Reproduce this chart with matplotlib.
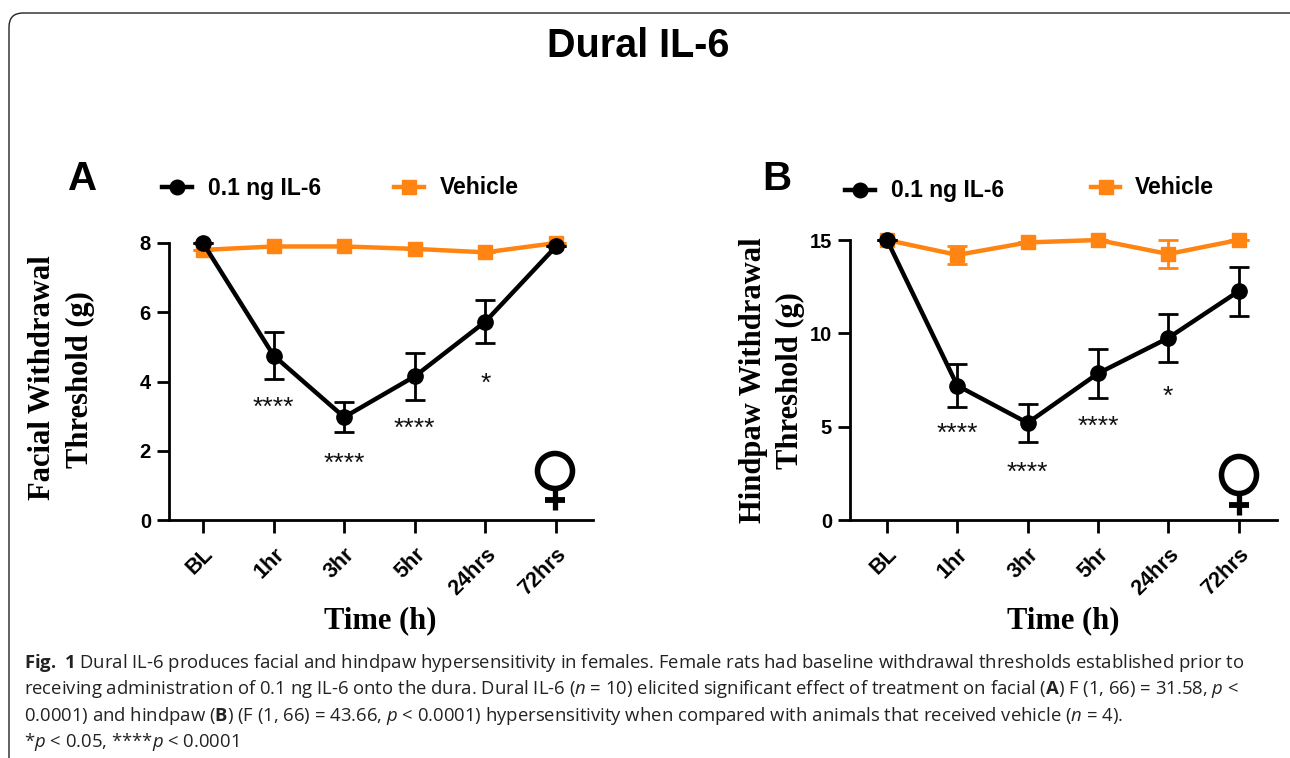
import matplotlib
matplotlib.use('Agg')
import matplotlib.pyplot as plt
from matplotlib.lines import Line2D
from matplotlib.patches import Ellipse, FancyBboxPatch

W, H = 1290, 758

times = ['BL', '1hr', '3hr', '5hr', '24hrs', '72hrs']

# panel A
facial_il6 = [8.0, 4.75, 2.97, 4.15, 5.73, 7.9]
facial_il6_err = [0, 0.69, 0.44, 0.67, 0.62, 0]
facial_veh = [7.8, 7.9, 7.9, 7.83, 7.73, 8.0]
facial_veh_err = [0, 0, 0, 0, 0, 0]
facial_stars = ['', '****', '****', '****', '*', '']
facial_star_y = [0, 3.25, 1.63, 2.62, 3.92, 0]

# panel B
hind_il6 = [15.0, 7.2, 5.2, 7.85, 9.75, 12.25]
hind_il6_err = [0, 1.17, 1.03, 1.3, 1.27, 1.3]
hind_veh = [15.0, 14.2, 14.87, 15.0, 14.25, 15.0]
hind_veh_err = [0, 0.5, 0, 0, 0.75, 0]
hind_stars = ['', '****', '****', '****', '*', '']
hind_star_y = [0, 4.64, 2.55, 5.01, 6.62, 0]

BLACK = '#000000'
ORANGE = '#ff8412'
SANS = 'Liberation Sans'
SERIF = 'Liberation Serif'

plt.rcParams['mathtext.fontset'] = 'custom'
plt.rcParams['mathtext.rm'] = 'Open Sans'
plt.rcParams['mathtext.it'] = 'Open Sans:italic'
plt.rcParams['mathtext.bf'] = 'Open Sans:bold'


def fx(px):
    return px / W


def fy(py):
    return 1 - py / H


fig = plt.figure(figsize=(W / 100, H / 100), dpi=100)
fig.patch.set_facecolor('white')

# rounded frame, runs off the right and bottom edge
fig.add_artist(FancyBboxPatch((9, -40), 1320, H + 40 - 13, boxstyle='round,pad=0,rounding_size=14',
                              transform=None, fc='none', ec='#222222', lw=1.0))


def panel(left, right, x0, step, ymax, yticks, il6, il6_err, veh, veh_err, stars, star_y):
    top, bottom = (243, 520) if ymax == 8 else (240, 520)
    ax = fig.add_axes([fx(left), fy(bottom), fx(right - left), (bottom - top) / H])
    ax.set_xlim((left - x0) / step, (right - x0) / step)
    ax.set_ylim(0, ymax)
    xs = list(range(len(times)))
    ax.errorbar(xs, veh, yerr=veh_err, color=ORANGE, lw=3.2, marker='s', ms=10.5, capsize=7,
                capthick=2, elinewidth=2, clip_on=False, zorder=3)
    ax.errorbar(xs, il6, yerr=il6_err, color=BLACK, lw=3.2, marker='o', ms=11, capsize=7,
                capthick=2, elinewidth=2, clip_on=False, zorder=4)
    for x, s, y in zip(xs, stars, star_y):
        if s:
            ax.text(x, y, s, ha='center', va='center', fontsize=19, family=SANS, color='#111111')
    ax.spines['top'].set_visible(False)
    ax.spines['right'].set_visible(False)
    ax.spines['left'].set_linewidth(2)
    ax.spines['bottom'].set_linewidth(2)
    ax.set_xticks(xs)
    ax.set_xticklabels(times, rotation=45, ha='right', rotation_mode='anchor',
                       family=SANS, fontweight='bold', fontsize=15.5)
    ax.set_yticks(yticks)
    ax.set_yticklabels([str(v) for v in yticks], family=SANS, fontweight='bold', fontsize=14.5)
    ax.tick_params(axis='both', width=2, length=9, pad=4, color=BLACK)
    ax.tick_params(axis='x', pad=8)
    ax.patch.set_alpha(0)
    return ax


panel(169, 593, 203, 70.6, 8, [0, 2, 4, 6, 8],
      facial_il6, facial_il6_err, facial_veh, facial_veh_err, facial_stars, facial_star_y)
panel(850, 1277, 887, 70.3, 15, [0, 5, 10, 15],
      hind_il6, hind_il6_err, hind_veh, hind_veh_err, hind_stars, hind_star_y)

fig.text(fx(638), fy(46), 'Dural IL-6', ha='center', va='center', family=SANS, fontweight='bold', fontsize=28.5)
fig.text(fx(83), fy(179), 'A', ha='center', va='center', family=SANS, fontweight='bold', fontsize=29)
fig.text(fx(777), fy(179), 'B', ha='center', va='center', family=SANS, fontweight='bold', fontsize=29)


def legend_item(x0, x1, y, color, marker, label, tx):
    fig.add_artist(Line2D([fx(x0), fx((x0 + x1) / 2), fx(x1)], [fy(y)] * 3, color=color, lw=3.2, marker=marker,
                          ms=10.5, markevery=[1], transform=fig.transFigure))
    fig.text(fx(tx), fy(y + 1), label, ha='left', va='center', family=SANS, fontweight='bold', fontsize=16.5)


legend_item(162, 192, 187, BLACK, 'o', '0.1 ng IL-6', 208)
legend_item(394, 424, 187, ORANGE, 's', 'Vehicle', 440)
legend_item(845, 875, 190, BLACK, 'o', '0.1 ng IL-6', 891)
legend_item(1091, 1120, 187, ORANGE, 's', 'Vehicle', 1135)

ylab = dict(ha='center', va='center', rotation=90, family=SERIF, fontweight='bold', fontsize=22)
fig.text(fx(43), fy(378), 'Facial Withdrawal', **ylab)
fig.text(fx(80), fy(380), 'Threshold (g)', **ylab)
fig.text(fx(753), fy(380), 'Hindpaw Withdrawal', **ylab)
fig.text(fx(790), fy(381), 'Threshold (g)', **ylab)
xlab = dict(ha='center', va='center', family=SERIF, fontweight='bold', fontsize=22)
fig.text(fx(380), fy(621), 'Time (h)', **xlab)
fig.text(fx(1063), fy(621), 'Time (h)', **xlab)


def female(cx, cy, w, h, stem_end, bar_y, bar_half):
    fig.add_artist(Ellipse((cx, H - cy), w, h, transform=None, fc='none', ec=BLACK, lw=4))
    fig.add_artist(Line2D([fx(cx), fx(cx)], [fy(cy + h / 2), fy(stem_end)], color=BLACK, lw=3.8, solid_capstyle='butt'))
    fig.add_artist(Line2D([fx(cx - bar_half), fx(cx + bar_half)], [fy(bar_y), fy(bar_y)], color=BLACK, lw=4.2,
                          solid_capstyle='butt'))


female(555, 471, 35, 35, 510, 500, 10)
female(1239, 475, 35, 37, 515, 505, 10)

caption = [
    r'$\mathbf{Fig.\ 1}$ Dural IL-6 produces facial and hindpaw hypersensitivity in females. Female rats had baseline withdrawal thresholds established prior to',
    r'receiving administration of 0.1 ng IL-6 onto the dura. Dural IL-6 ($\mathit{n}$ = 10) elicited significant effect of treatment on facial ($\mathbf{A}$) F (1, 66) = 31.58, $\mathit{p}$ <',
    r'0.0001) and hindpaw ($\mathbf{B}$) (F (1, 66) = 43.66, $\mathit{p}$ < 0.0001) hypersensitivity when compared with animals that received vehicle ($\mathit{n}$ = 4).',
    r'*$\mathit{p}$ < 0.05, ****$\mathit{p}$ < 0.0001',
]
caption_y = [663, 689, 716, 742]
for line, y in zip(caption, caption_y):
    fig.text(fx(24), fy(y), line, ha='left', va='center', family='Open Sans', fontsize=13.3, color='#222222')

fig.savefig('out.png', dpi=100)
